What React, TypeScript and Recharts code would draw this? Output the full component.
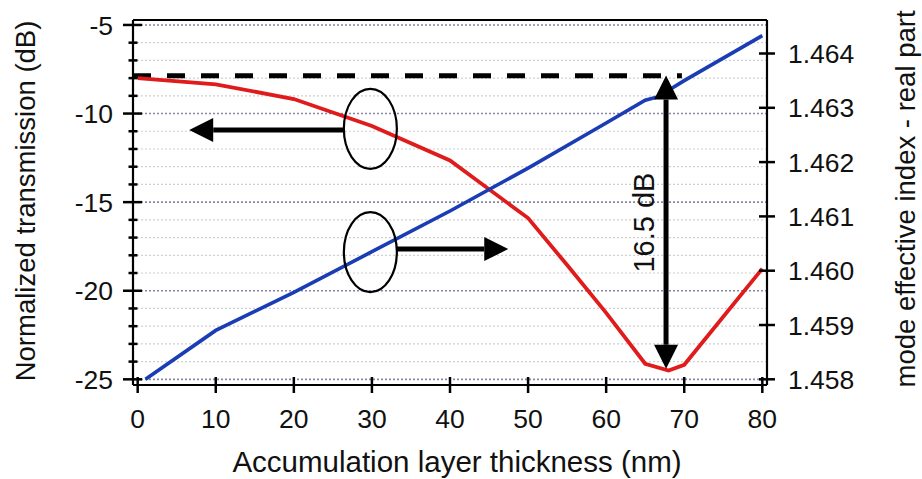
import React from 'react';
import {
  ComposedChart,
  Line,
  XAxis,
  YAxis,
  CartesianGrid,
  ReferenceLine,
  ReferenceDot,
} from 'recharts';

// ---------- data ----------
const thicknessRed = [0, 10, 20, 30, 40, 50, 55, 60, 65, 68, 70, 80];
const transmissionDb = [-8.0, -8.35, -9.18, -10.7, -12.65, -15.9, -18.55, -21.25, -24.12, -24.5, -24.18, -18.75];

const thicknessBlue = [1, 10, 20, 30, 40, 50, 60, 65, 66.6, 70, 80];
const effIndexReal = [1.458, 1.4589, 1.4596, 1.46035, 1.4611, 1.46189, 1.46272, 1.46314, 1.4632, 1.4635, 1.46433];

const xTicks = [0, 10, 20, 30, 40, 50, 60, 70, 80];
const leftTicks = [-25, -24, -23, -22, -21, -20, -19, -18, -17, -16, -15, -14, -13, -12, -11, -10, -9, -8, -7, -6, -5];
const rightTicks = [1.458, 1.459, 1.46, 1.461, 1.462, 1.463, 1.464];

const xDomain = [-0.6, 80.6];
const leftDomain = [-25.32, -4.72];
const rightDomain = [1.457895, 1.464617];

// annotations (data coordinates)
const refLevelDb = -7.87;
const refLevelEnd = 69.7;
const dipArrowX = 67.67;
const dipArrowTop = -7.85;
const dipArrowBottom = -24.4;
const dipLabel = '16.5 dB';
const dipLabelPos = { x: 66.07, y: -16.15 };
const ellipseLeft = { x: 29.8, y: -10.86 };
const arrowLeft = { from: 26.45, to: 6.6, y: -10.93 };
const ellipseRight = { x: 29.8, y: -17.82 };
const arrowRight = { from: 33.2, to: 47.46, y: -17.65 };

const redData = thicknessRed.map((x, i) => ({ x, v: transmissionDb[i] }));
const blueData = thicknessBlue.map((x, i) => ({ x, v: effIndexReal[i] }));

const FONT = '"Liberation Sans", Arial, Helvetica, sans-serif';
const TICK_FS = 26.5;

// ---------- tick renderers ----------
const LeftTick = (p: any) => {
  const { x, y, payload } = p;
  const v = payload.value;
  const major = Math.abs(v % 5) < 1e-9;
  return (
    <g>
      <line x1={x - (major ? 10 : 4.5)} x2={x + (major ? 9 : 4.5)} y1={y} y2={y} stroke="#000" strokeWidth={2.5} />
      {major && (
        <text x={x - 20} y={y} dy="0.36em" textAnchor="end" fontSize={TICK_FS} fontFamily={FONT} fill="#111">
          {v}
        </text>
      )}
    </g>
  );
};

const RightTick = (p: any) => {
  const { x, y, payload } = p;
  return (
    <g>
      <line x1={x - 8} x2={x + 8} y1={y} y2={y} stroke="#000" strokeWidth={2.5} />
      <text x={x + 21} y={y} dy="0.36em" textAnchor="start" fontSize={TICK_FS} fontFamily={FONT} fill="#111">
        {Number(payload.value).toFixed(3)}
      </text>
    </g>
  );
};

const BottomTick = (p: any) => {
  const { x, y, payload } = p;
  return (
    <g>
      <line x1={x} x2={x} y1={y - 8} y2={y + 8} stroke="#000" strokeWidth={2.5} />
      <text x={x} y={y + 43} textAnchor="middle" fontSize={TICK_FS} fontFamily={FONT} fill="#111">
        {payload.value}
      </text>
    </g>
  );
};

const TopTick = (p: any) => {
  const { x, y } = p;
  return <line x1={x} x2={x} y1={y - 8} y2={y + 9} stroke="#000" strokeWidth={2.5} />;
};

// ---------- shapes ----------
const makeArrow = (double: boolean) => (p: any) => {
  const { x1, y1, x2, y2 } = p;
  const dx = x2 - x1;
  const dy = y2 - y1;
  const len = Math.sqrt(dx * dx + dy * dy) || 1;
  const ux = dx / len;
  const uy = dy / len;
  const nx = -uy;
  const ny = ux;
  const L = 24;
  const W = 12;
  const headAt = (tx: number, ty: number, sx: number, sy: number) => {
    const bx = tx - sx * L;
    const by = ty - sy * L;
    return `${tx},${ty} ${bx + nx * W},${by + ny * W} ${bx - nx * W},${by - ny * W}`;
  };
  const startX = double ? x1 + ux * L : x1;
  const startY = double ? y1 + uy * L : y1;
  const endX = x2 - ux * L;
  const endY = y2 - uy * L;
  return (
    <g>
      <line x1={startX} y1={startY} x2={endX} y2={endY} stroke="#000" strokeWidth={5} />
      <polygon points={headAt(x2, y2, ux, uy)} fill="#000" />
      {double && <polygon points={headAt(x1, y1, -ux, -uy)} fill="#000" />}
    </g>
  );
};

const EllipseShape = (p: any) => (
  <ellipse cx={p.cx} cy={p.cy} rx={26.5} ry={40} fill="none" stroke="#000" strokeWidth={2.2} />
);

const DipLabelShape = (p: any) => (
  <text
    x={p.cx}
    y={p.cy}
    textAnchor="middle"
    fontSize={29}
    fontFamily={FONT}
    fill="#111"
    transform={`rotate(-90 ${p.cx} ${p.cy})`}
  >
    {dipLabel}
  </text>
);

const GridLine = (p: any) => {
  const major = p.index % 5 === 0;
  return (
    <line
      key={p.key}
      x1={p.x1}
      x2={p.x2}
      y1={p.y1}
      y2={p.y2}
      stroke={major ? '#8686a6' : '#cfcfcf'}
      strokeWidth={major ? 1.6 : 1.2}
      strokeDasharray="2 2"
    />
  );
};

// ---------- labels ----------
const LeftTitle = (p: any) => {
  const vb = p.viewBox;
  const x = vb.x + 35;
  const y = vb.y + vb.height / 2 - 1.5;
  return (
    <text x={x} y={y} textAnchor="middle" fontSize={27.5} fontFamily={FONT} fill="#111" transform={`rotate(-90 ${x} ${y})`}>
      Normalized transmission (dB)
    </text>
  );
};

const RightTitle = (p: any) => {
  const vb = p.viewBox;
  const x = vb.x + vb.width - 7;
  const y = vb.y + vb.height / 2 - 3.5;
  return (
    <text x={x} y={y} textAnchor="middle" fontSize={27.5} fontFamily={FONT} fill="#111" transform={`rotate(-90 ${x} ${y})`}>
      mode effective index - real part
    </text>
  );
};

const BottomTitle = (p: any) => {
  const vb = p.viewBox;
  return (
    <text x={vb.x + vb.width / 2 + 7} y={vb.y + 86.5} textAnchor="middle" fontSize={29.5} fontFamily={FONT} fill="#111">
      Accumulation layer thickness (nm)
    </text>
  );
};

export default function App() {
  return (
    <div style={{ position: 'absolute', left: 0, top: 0, width: 922, height: 479, background: '#fff' }}>
      <ComposedChart width={922} height={479} margin={{ top: 0, right: 0, bottom: 0, left: 0 }}>
        <CartesianGrid
          yAxisId="left"
          xAxisId={0}
          vertical={false}
          horizontal={GridLine}
          stroke="#cfcfcf"
        />
        <XAxis
          xAxisId={0}
          type="number"
          dataKey="x"
          domain={xDomain}
          allowDataOverflow
          ticks={xTicks}
          interval={0}
          height={94}
          tickSize={0}
          tickMargin={0}
          tickLine={false}
          tick={(p: any) => <BottomTick {...p} />}
          axisLine={{ stroke: '#000', strokeWidth: 2.2 }}
          label={BottomTitle}
        />
        <XAxis
          xAxisId="top"
          orientation="top"
          type="number"
          domain={xDomain}
          allowDataOverflow
          ticks={xTicks}
          interval={0}
          height={20}
          tickSize={0}
          tickMargin={0}
          tickLine={false}
          tick={(p: any) => <TopTick {...p} />}
          axisLine={{ stroke: '#000', strokeWidth: 2.2 }}
        />
        <YAxis
          yAxisId="left"
          orientation="left"
          type="number"
          domain={leftDomain}
          allowDataOverflow
          ticks={leftTicks}
          interval={0}
          width={133}
          tickSize={0}
          tickMargin={0}
          tickLine={false}
          tick={(p: any) => <LeftTick {...p} />}
          axisLine={{ stroke: '#000', strokeWidth: 2.2 }}
          label={LeftTitle}
        />
        <YAxis
          yAxisId="right"
          orientation="right"
          type="number"
          domain={rightDomain}
          allowDataOverflow
          ticks={rightTicks}
          interval={0}
          width={155}
          tickSize={0}
          tickMargin={0}
          tickLine={false}
          tick={(p: any) => <RightTick {...p} />}
          axisLine={{ stroke: '#000', strokeWidth: 2.2 }}
          label={RightTitle}
        />

        <ReferenceLine
          xAxisId={0}
          yAxisId="left"
          ifOverflow="visible"
          segment={[
            { x: xDomain[0], y: refLevelDb },
            { x: refLevelEnd, y: refLevelDb },
          ]}
          stroke="#000"
          strokeWidth={5}
          strokeDasharray="18 16"
        />

        <Line
          xAxisId={0}
          yAxisId="left"
          data={redData}
          dataKey="v"
          type="linear"
          stroke="#e01b1b"
          strokeWidth={3.8}
          dot={false}
          activeDot={false}
          isAnimationActive={false}
        />
        <Line
          xAxisId={0}
          yAxisId="right"
          data={blueData}
          dataKey="v"
          type="linear"
          stroke="#1a3cb4"
          strokeWidth={3.6}
          dot={false}
          activeDot={false}
          isAnimationActive={false}
        />

        <ReferenceLine
          xAxisId={0}
          yAxisId="left"
          ifOverflow="visible"
          segment={[
            { x: dipArrowX, y: dipArrowTop },
            { x: dipArrowX, y: dipArrowBottom },
          ]}
          shape={makeArrow(true)}
        />
        <ReferenceLine
          xAxisId={0}
          yAxisId="left"
          ifOverflow="visible"
          segment={[
            { x: arrowLeft.from, y: arrowLeft.y },
            { x: arrowLeft.to, y: arrowLeft.y },
          ]}
          shape={makeArrow(false)}
        />
        <ReferenceLine
          xAxisId={0}
          yAxisId="left"
          ifOverflow="visible"
          segment={[
            { x: arrowRight.from, y: arrowRight.y },
            { x: arrowRight.to, y: arrowRight.y },
          ]}
          shape={makeArrow(false)}
        />
        <ReferenceDot xAxisId={0} yAxisId="left" x={ellipseLeft.x} y={ellipseLeft.y} ifOverflow="visible" shape={EllipseShape} />
        <ReferenceDot xAxisId={0} yAxisId="left" x={ellipseRight.x} y={ellipseRight.y} ifOverflow="visible" shape={EllipseShape} />
        <ReferenceDot xAxisId={0} yAxisId="left" x={dipLabelPos.x} y={dipLabelPos.y} ifOverflow="visible" shape={DipLabelShape} />
      </ComposedChart>
    </div>
  );
}
